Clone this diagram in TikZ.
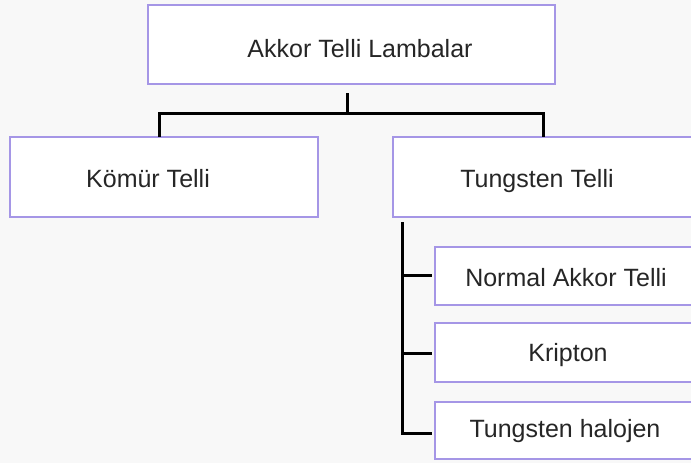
\documentclass[tikz,border=0pt]{standalone}
\usepackage{fontspec}
\setmainfont{Liberation Sans}
\definecolor{boxline}{HTML}{A596E6}
\definecolor{boxfill}{HTML}{FFFFFF}
\definecolor{bg}{HTML}{F8F8F8}
\begin{document}
\begin{tikzpicture}[x=1pt,y=-1pt,
  box/.style={draw=boxline,line width=1.5pt,fill=boxfill},
  lbl/.style={font=\fontsize{25}{28}\selectfont,text=black!85,inner sep=0pt,anchor=base},
  conn/.style={draw=black,line width=3pt}]
\fill[bg] (0,0) rectangle (691,463);
\useasboundingbox (0,0) rectangle (691,463);
% boxes
\draw[box] (148,5) rectangle (555,84);
\draw[box] (10,137) rectangle (318,217);
\draw[box] (393,137) rectangle (700,217);
\draw[box] (435,247) rectangle (700,305);
\draw[box] (435,323) rectangle (700,382);
\draw[box] (435,402) rectangle (700,459);
% labels
\node[lbl] (root) at (360,57) {Akkor Telli Lambalar};
\node[lbl] (komur) at (148,187) {Kömür Telli};
\node[lbl] (tung) at (537,187) {Tungsten Telli};
\node[lbl] (normal) at (566,286) {Normal Akkor Telli};
\node[lbl] (kripton) at (568,361) {Kripton};
\node[lbl] (halojen) at (565,437) {Tungsten halojen};
% connector coordinates
\coordinate (s0) at (347,93);
\coordinate (s1) at (347,113);
\coordinate (l1) at (159,113);
\coordinate (l2) at (159,137);
\coordinate (r1) at (543,113);
\coordinate (r2) at (543,137);
\coordinate (t0) at (402,222);
\coordinate (b1) at (402,275);
\coordinate (b1e) at (432,275);
\coordinate (b2) at (402,353);
\coordinate (b2e) at (432,353);
\coordinate (b3) at (402,433);
\coordinate (b3e) at (432,433);
\draw[conn] (s0) -- (s1);
\draw[conn,line join=miter] (l2) -- (l1) -- (r1) -- (r2);
\draw[conn,line join=miter] (t0) -- (b3) -- (b3e);
\draw[conn] (b1) -- (b1e);
\draw[conn] (b2) -- (b2e);
\end{tikzpicture}
\end{document}
